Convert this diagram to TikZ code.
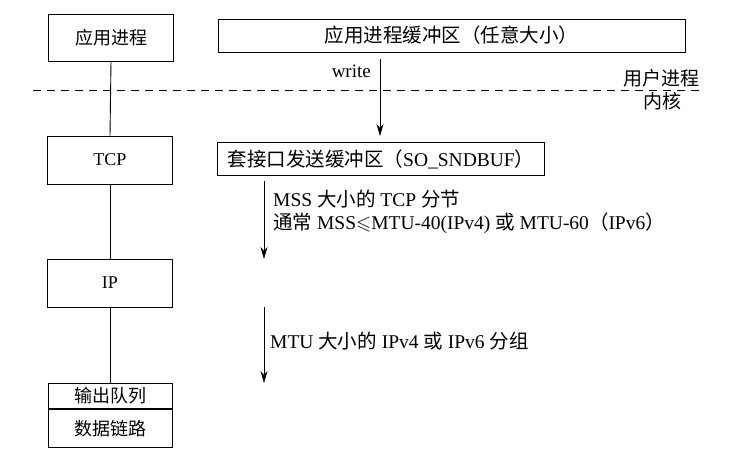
\documentclass[tikz,border=0pt]{standalone}
\usepackage{fontspec}
\usepackage{amssymb}
\setmainfont{Liberation Serif}
\newfontfamily\cjk{Noto Sans CJK SC}
\usetikzlibrary{arrows.meta}

\tikzset{
  layerbox/.style={draw, line width=1pt, inner sep=0pt, minimum width=125pt, minimum height=47pt},
  bufbox/.style={draw, line width=1pt, inner sep=0pt, minimum height=33pt, font=\fontsize{19.5}{22}\selectfont},
  link/.style={line width=0.9pt},
  flow/.style={line width=0.9pt, -{Stealth[length=12pt,width=7pt]}},
  note/.style={inner sep=0pt, anchor=west, align=left, font=\fontsize{19.5}{22}\selectfont},
}

\begin{document}
\begin{tikzpicture}[x=1pt, y=-1pt, font=\fontsize{18}{22}\selectfont]
  \useasboundingbox (0,0) rectangle (739,463);

  % user / kernel boundary
  \draw[line width=0.9pt, dash pattern=on 8pt off 6pt] (33,90) coordinate (bl) -- (700,90) coordinate (br);
  \node[inner sep=0pt, font=\fontsize{19}{22}\selectfont] (user) at (661,78) {\cjk 用户进程};
  \node[inner sep=0pt, font=\fontsize{19}{22}\selectfont] (kern) at (662,101) {\cjk 内核};

  % protocol stack
  \node[layerbox] (app) at (111,37.5) {\cjk 应用进程};
  \node[layerbox, minimum height=48pt] (tcp) at (110,160) {TCP};
  \node[layerbox, minimum height=48pt] (ip) at (110,283) {IP};
  \node[draw, line width=1pt, inner sep=0pt, minimum width=124pt, minimum height=25pt, anchor=north]
    (queue) at (110,383) {\cjk 输出队列};
  \node[draw, line width=1pt, inner sep=0pt, minimum width=124pt, minimum height=38pt, anchor=north]
    (dlink) at (queue.south) {\cjk 数据链路};

  \draw[link] (app.south) -- (tcp.north);
  \draw[link] (tcp.south) -- (ip.north);
  \draw[link] (ip.south) -- (queue.north);

  % buffers
  \node[bufbox, minimum width=467pt] (appbuf) at (451.5,35.5) {{\cjk 应用进程缓冲区（任意大小）}};
  \node[bufbox, minimum width=327pt, anchor=north west] (sockbuf) at (217,142)
    {{\cjk 套接口发送缓冲区（}SO\_SNDBUF{\cjk ）}};

  % data flow
  \coordinate (w0) at (380,59);
  \coordinate (w1) at (380,136);
  \draw[flow] (w0) -- (w1);
  \node[inner sep=0pt, anchor=east, font=\fontsize{19}{22}\selectfont] (write) at (371,71) {write};

  \coordinate (s0) at (264,181);
  \coordinate (s1) at (264,259);
  \draw[flow] (s0) -- (s1);
  \node[note] (seg1) at (273,199) {MSS {\cjk 大小的} TCP {\cjk 分节}};
  \node[note] (seg2) at (273,223) {{\cjk 通常} MSS$\leqslant$MTU-40(IPv4) {\cjk 或} MTU-60{\cjk （}IPv6{\cjk ）}};

  \coordinate (p0) at (264,307);
  \coordinate (p1) at (264,383);
  \draw[flow] (p0) -- (p1);
  \node[note] (pkt) at (270,341) {MTU {\cjk 大小的} IPv4 {\cjk 或} IPv6 {\cjk 分组}};
\end{tikzpicture}
\end{document}
